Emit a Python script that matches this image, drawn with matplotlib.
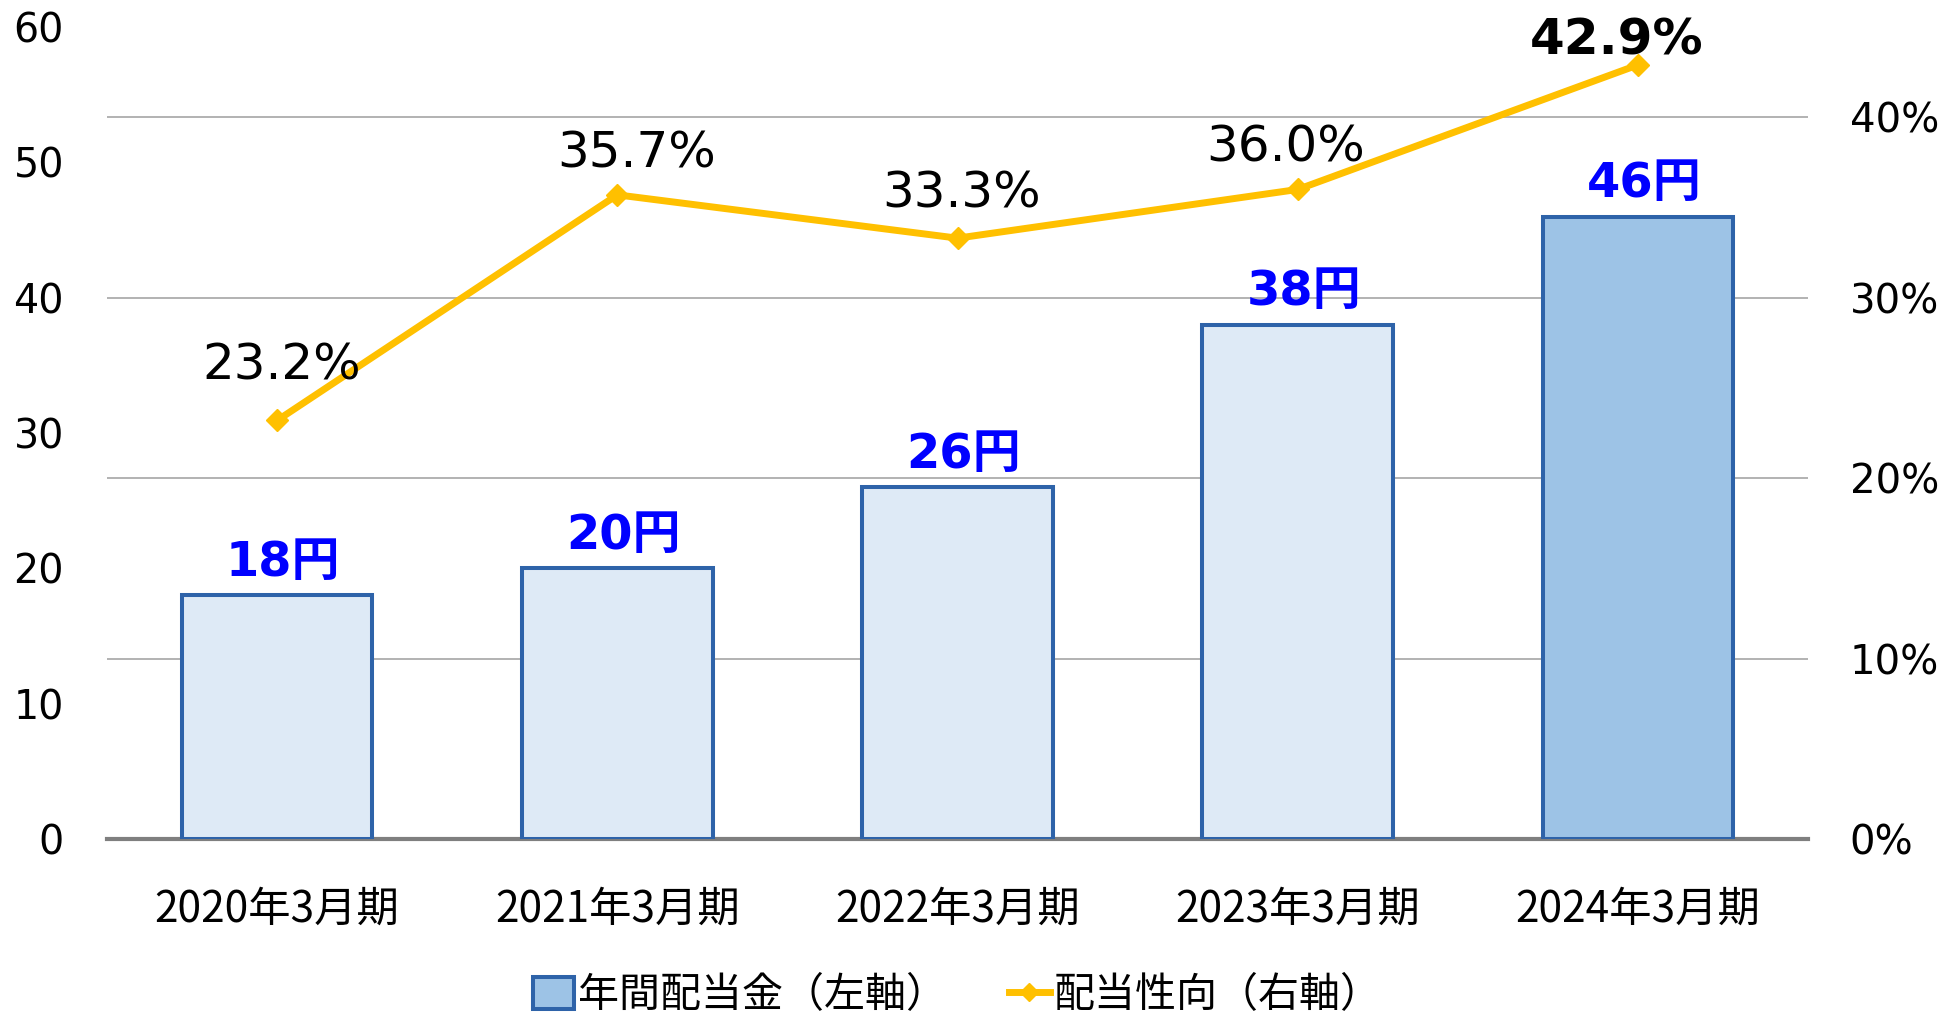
import matplotlib
matplotlib.use("Agg")
import matplotlib.pyplot as plt
from matplotlib.patches import Patch
from matplotlib.lines import Line2D

plt.rcParams['font.family'] = ['DejaVu Sans', 'Noto Sans CJK JP']

periods = ['2020年3月期', '2021年3月期', '2022年3月期', '2023年3月期', '2024年3月期']
dividend = [18, 20, 26, 38, 46]
payout = [23.2, 35.7, 33.3, 36.0, 42.9]
left_ticks = [0, 10, 20, 30, 40, 50, 60]
right_ticks = [0, 10, 20, 30, 40]

# label offsets (pixels) for the payout labels, as placed in the original
pct_offsets = [(5, 55), (19, 41), (4, 45), (-12, 42), (-21, 24)]

edge = '#2E63A9'
light = '#DEEAF6'
dark = '#9DC3E6'
gold = '#FFC000'

fig = plt.figure(figsize=(19.47, 10.17), dpi=100)
ax = fig.add_axes([0.055, 0.175, 0.8736, 0.7984])
ax2 = ax.twinx()
ax.set_zorder(ax2.get_zorder() + 1)
ax.patch.set_visible(False)

x = list(range(len(periods)))
colors = [light] * (len(periods) - 1) + [dark]
bars = ax.bar(x, dividend, width=0.56, color=colors, edgecolor=edge, linewidth=2.9, zorder=3)
for xi, v in zip(x, dividend):
    ax.annotate(f'{v}円', (xi, v), xytext=(6, 33), textcoords='offset pixels',
                ha='center', va='center', fontsize=34.5, fontweight='bold', color='#0000FF')

ax.set_xlim(-0.5, len(periods) - 0.5)
ax.set_ylim(0, 60)
ax.set_yticks(left_ticks)
ax.set_xticks(x)
ax.set_xticklabels(periods, fontsize=30.5, family='Noto Sans CJK JP')
ax.tick_params(axis='y', length=0, labelsize=28.5, pad=31)
ax.tick_params(axis='x', length=0, pad=35)
for s in ['top', 'right', 'left']:
    ax.spines[s].set_visible(False)
ax.spines['bottom'].set_color('#7F7F7F')
ax.spines['bottom'].set_linewidth(3)

ax2.plot(x, payout, color=gold, linewidth=5, marker='D', markersize=11, zorder=3)
for i, (xi, v) in enumerate(zip(x, payout)):
    dx, dy = pct_offsets[i]
    ax2.annotate(f'{v:.1f}%', (xi, v), xytext=(dx, dy), textcoords='offset pixels',
                 ha='center', va='center', fontsize=36,
                 fontweight='bold' if i == len(payout) - 1 else 'normal')
ax2.set_ylim(0, 45)
ax2.set_yticks(right_ticks)
ax2.set_yticklabels([f'{t}%' for t in right_ticks])
ax2.tick_params(axis='y', length=0, labelsize=29, pad=30)
ax2.grid(axis='y', color='#A6A6A6', linewidth=1.2)
for s in ax2.spines.values():
    s.set_visible(False)

handles = [Patch(facecolor=dark, edgecolor=edge, linewidth=2.9),
           Line2D([], [], color=gold, linewidth=5, marker='D', markersize=9)]
fig.legend(handles, ['年間配当金（左軸）', '配当性向（右軸）'], loc='center',
           bbox_to_anchor=(0.055 + 0.8736 / 2, 0.021), ncol=2, frameon=False,
           prop={'family': 'Noto Sans CJK JP', 'size': 29.5},
           handlelength=1.0, handleheight=0.8, handletextpad=0.1, columnspacing=1.5,
           borderpad=0.1)

fig.savefig('out.png', dpi=100)
